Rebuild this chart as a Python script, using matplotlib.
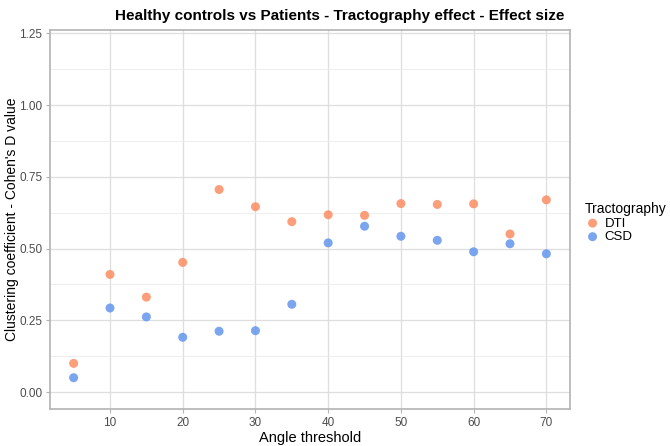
import matplotlib.pyplot as plt
from matplotlib.ticker import MultipleLocator

plt.rcParams['font.family'] = ['Liberation Sans', 'DejaVu Sans']

# datos
angles = [5, 10, 15, 20, 25, 30, 35, 40, 45, 50, 55, 60, 65, 70]
dti = [0.100, 0.410, 0.331, 0.452, 0.706, 0.646, 0.594, 0.618, 0.616, 0.657, 0.654, 0.656, 0.551, 0.670]
csd = [0.050, 0.293, 0.262, 0.191, 0.212, 0.214, 0.306, 0.520, 0.578, 0.543, 0.529, 0.489, 0.517, 0.482]
series_names = ['DTI', 'CSD']
series_colors = ['#FC8D62', '#6495ED']

fig = plt.figure(figsize=(6.7, 4.46), dpi=100)
ax = fig.add_axes([50 / 670, 1 - 409 / 446, 520 / 670, 379 / 446])

for name, vals, col in zip(series_names, [dti, csd], series_colors):
    ax.scatter(angles, vals, s=42, color=col, alpha=0.85, edgecolors='none',
               label=name, zorder=3)

ax.set_xlim(1.75, 73.25)
ax.set_ylim(-0.059, 1.262)
ax.set_xticks([10, 20, 30, 40, 50, 60, 70])
ax.set_yticks([0, 0.25, 0.5, 0.75, 1.0, 1.25])
ax.set_yticklabels(['0.00', '0.25', '0.50', '0.75', '1.00', '1.25'])
ax.yaxis.set_minor_locator(MultipleLocator(0.125))

ax.grid(which='major', color='#DEDEDE', linewidth=0.9, zorder=0)
ax.grid(which='minor', axis='y', color='#EBEBEB', linewidth=0.6, zorder=0)
ax.set_axisbelow(True)
for sp in ax.spines.values():
    sp.set_color('#B3B3B3')
    sp.set_linewidth(1.2)
ax.tick_params(which='major', colors='#B3B3B3', labelcolor='#4D4D4D',
               labelsize=8.5, length=3, width=0.8, pad=2.5)
ax.tick_params(which='minor', length=0)

ax.set_xlabel('Angle threshold', fontsize=10.5, labelpad=2)
fig.text(12 / 670, 1 - 219 / 446, "Clustering coefficient - Cohen's D value",
         rotation=90, ha='center', va='center', fontsize=10)
fig.text(340 / 670, 1 - 16 / 446, 'Healthy controls vs Patients - Tractography effect - Effect size',
         ha='center', va='center', fontsize=11, fontweight='bold')

leg = ax.legend(title='Tractography', loc='upper left', bbox_to_anchor=(1.018, 0.56),
                frameon=False, fontsize=9.5, title_fontsize=10, handletextpad=0.3,
                labelspacing=0.1, borderaxespad=0, markerscale=1.0, handlelength=1.2)
leg._legend_box.align = 'left'

fig.savefig('out.png', dpi=100)
